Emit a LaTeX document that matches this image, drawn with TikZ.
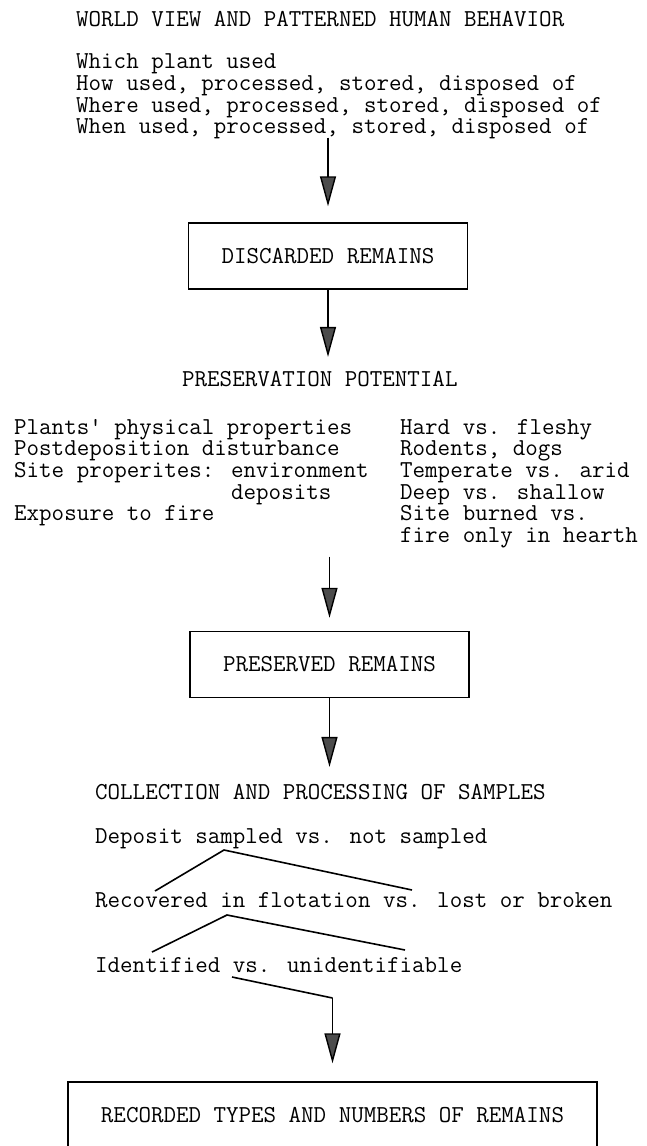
\documentclass[tikz,border=0pt]{standalone}
\usetikzlibrary{calc,positioning,arrows.meta}
\newcommand{\typewriter}{\ttfamily\fontsize{24.3}{21.7}\selectfont}
\tikzset{
   remains/.style={ rectangle, draw=black, line width=1.4pt, minimum height=66pt, inner xsep=33pt, inner ysep=0pt, text centered, font=\typewriter},
   typed/.style={ inner sep=0pt, anchor=base west, text height=14.9pt, text depth=4.5pt, font=\typewriter},
   flow/.style={ line width=1.4pt, -{Triangle[length=30pt,width=16pt,fill=black!70]}},
   branch/.style={ line width=1.6pt},
}
\begin{document}
\begin{tikzpicture}[x=1pt,y=-1pt]
  \useasboundingbox (0,0) rectangle (647,1146);
  \clip (0,0) rectangle (647,1146);

  \node[typed] at (76,26)  (world view) {WORLD VIEW AND PATTERNED HUMAN BEHAVIOR};
  \node[typed] at (76,68)  (which)      {Which plant used};
  \node[typed] at (76,90)  (how)        {How used, processed, stored, disposed of};
  \node[typed] at (76,112) (where)      {Where used, processed, stored, disposed of};
  \node[typed] at (76,133) (when)       {When used, processed, stored, disposed of};

  \node[remains] at (328,256)   (discarded) {DISCARDED REMAINS};

  \node[typed] at (182,386) (potential) {PRESERVATION POTENTIAL};

  \node[typed] at (14,434)  (physical)    {Plants\textquotesingle{} physical properties};
  \node[typed] at (14,455)  (disturbance) {Postdeposition disturbance};
  \node[typed] at (14,477)  (site)        {Site properites: environment};
  \node[typed] at (231,499) (deposits)    {deposits};
  \node[typed] at (14,520)  (exposure)    {Exposure to fire};

  \node[typed] at (400,434) (fleshy)  {Hard vs. fleshy};
  \node[typed] at (400,455) (rodents) {Rodents, dogs};
  \node[typed] at (400,477) (arid)    {Temperate vs. arid};
  \node[typed] at (400,499) (shallow) {Deep vs. shallow};
  \node[typed] at (400,520) (burned)  {Site burned vs.};
  \node[typed] at (400,542) (hearth)  {fire only in hearth};

  \node[remains] at (329.5,664.5) (preserved) {PRESERVED REMAINS};

  \node[typed] at (95,799) (collection) {COLLECTION AND PROCESSING OF SAMPLES};
  \node[typed] at (95,843) (deposit)    {Deposit sampled vs. not sampled};
  \node[typed] at (95,907) (recovered)  {Recovered in flotation vs. lost or broken};
  \node[typed] at (95,972) (identified) {Identified vs. unidentifiable};

  \node[remains] at (332.5,1115) (recorded) {RECORDED TYPES AND NUMBERS OF REMAINS};

  \coordinate (sampled left)     at (155,891);
  \coordinate (sampled split)    at (224,850);
  \coordinate (sampled right)    at (412,890);
  \coordinate (recovered left)   at (152,952);
  \coordinate (recovered split)  at (227,915);
  \coordinate (recovered right)  at (405,950);
  \coordinate (identified start) at (232,977);
  \coordinate (identified turn)  at (332.5,998);

  \draw[flow, shorten >=16pt] (discarded.north |- when.south) -- (discarded.north);
  \draw[flow, shorten >=14pt] (discarded.south) -- (discarded.south |- potential.north);
  \draw[flow, shorten >=13pt] ($(preserved.north |- hearth.south)+(0,10)$) -- (preserved.north);
  \draw[flow, shorten >=17pt] (preserved.south) -- (preserved.south |- collection.north);

  \draw[branch] (sampled left) -- (sampled split) -- (sampled right);
  \draw[branch] (recovered left) -- (recovered split) -- (recovered right);
  \draw[branch] (identified start) -- (identified turn);
  \draw[flow, shorten >=18pt] (identified turn) -- (recorded.north);

\end{tikzpicture}
\end{document}
